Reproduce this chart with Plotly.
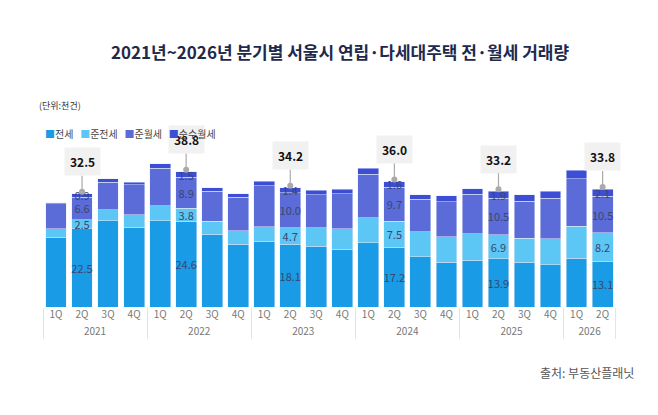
import plotly.graph_objects as go

years = ['2021'] * 4 + ['2022'] * 4 + ['2023'] * 4 + ['2024'] * 4 + ['2025'] * 4 + ['2026'] * 2
quarters = ['1Q', '2Q', '3Q', '4Q'] * 5 + ['1Q', '2Q']

jeonse      = [20.1, 22.5, 24.8, 22.9, 24.8, 24.6, 20.9, 18.1, 18.9, 18.1, 17.5, 16.6,
               18.4, 17.2, 14.5, 12.9, 13.5, 13.9, 12.9, 12.2, 14.0, 13.1]
semi_jeonse = [2.4, 2.5, 3.2, 3.6, 4.3, 3.8, 3.7, 3.8, 4.2, 4.7, 5.2, 5.9,
               7.3, 7.5, 7.1, 7.3, 7.6, 6.9, 6.8, 7.4, 9.2, 8.2]
semi_wolse  = [7.1, 6.6, 7.8, 8.6, 10.8, 8.9, 8.6, 9.6, 11.7, 10.0, 9.6, 10.1,
               12.4, 9.7, 9.4, 10.0, 11.3, 10.5, 10.7, 11.6, 13.7, 10.5]
pure_wolse  = [0.4, 0.9, 1.0, 0.8, 1.3, 1.5, 1.0, 1.1, 1.3, 1.4, 1.2, 1.3,
               1.7, 1.6, 1.2, 1.7, 1.6, 1.9, 1.8, 2.0, 2.4, 2.1]
totals_label = {1: '32.5', 5: '38.8', 9: '34.2', 13: '36.0', 17: '33.2', 21: '33.8'}

series = [
    ('전세', jeonse, '#1a9be6'),
    ('준전세', semi_jeonse, '#5cc6f4'),
    ('준월세', semi_wolse, '#5b6bd8'),
    ('순수월세', pure_wolse, '#3d4ed6'),
]

fig = go.Figure()
for name, vals, color in series:
    text = [f'{v:.1f}' if i in totals_label else '' for i, v in enumerate(vals)]
    fig.add_bar(x=[years, quarters], y=vals, name=name, marker_color=color,
                text=text, textposition='inside', insidetextanchor='middle',
                textfont=dict(color='#3a4670', size=11), textangle=0,
                constraintext='none', showlegend=False)

totals = [a + b + c + d for a, b, c, d in zip(jeonse, semi_jeonse, semi_wolse, pure_wolse)]
dot_x, dot_y = [[], []], []
for i, lab in totals_label.items():
    top = totals[i] + 0.6
    dot_x[0].append(years[i]); dot_x[1].append(quarters[i]); dot_y.append(top)
    fig.add_annotation(x=i, y=top, xref='x', yref='y', text=f'<b>{lab}</b>',
                       showarrow=True, arrowhead=0, arrowwidth=1.2, arrowcolor='#aaaaaa',
                       ax=0, ay=-30, bgcolor='#f1f1f1', borderpad=5,
                       font=dict(size=12, color='#111111'))
fig.add_scatter(x=dot_x, y=dot_y, mode='markers', marker=dict(color='#aaaaaa', size=6),
                showlegend=False, hoverinfo='skip')

legend_txt = '   '.join(f'<span style="color:{c}">■</span>{n}' for n, _, c in series)
fig.add_annotation(text=legend_txt, xref='paper', yref='paper', x=0.0, xanchor='left',
                   y=0.92, yanchor='middle', showarrow=False,
                   font=dict(size=10, color='#444444'))
fig.add_annotation(text='<b>2021년~2026년 분기별 서울시 연립·다세대주택 전·월세 거래량</b>',
                   xref='paper', yref='paper', x=0.5, y=1.0, yanchor='bottom', yshift=52,
                   showarrow=False, font=dict(size=17, color='#1d2a4d'))
fig.add_annotation(text='(단위:천건)', xref='paper', yref='paper', x=-0.01, xanchor='left',
                   y=1.0, yshift=4, yanchor='bottom', showarrow=False,
                   font=dict(size=9, color='#333333'))
fig.add_annotation(text='출처: 부동산플래닛', xref='paper', yref='paper', x=1.0, xanchor='right',
                   y=0, yshift=-55, yanchor='top', showarrow=False,
                   font=dict(size=12, color='#555555'))

fig.update_layout(
    width=658, height=415,
    margin=dict(l=35, r=30, t=110, b=116),
    paper_bgcolor='white', plot_bgcolor='white',
    barmode='stack', bargap=0.2,
    uniformtext=dict(minsize=10, mode='show'),
    font=dict(family='Noto Sans CJK KR', color='#666666'),
    showlegend=False,
    xaxis=dict(type='multicategory', tickfont=dict(size=10, color='#777777'),
               showdividers=True, dividercolor='#e4e4e4', showline=False),
    yaxis=dict(visible=False, range=[0, 54.3]),
)
fig.write_html('out.html')
